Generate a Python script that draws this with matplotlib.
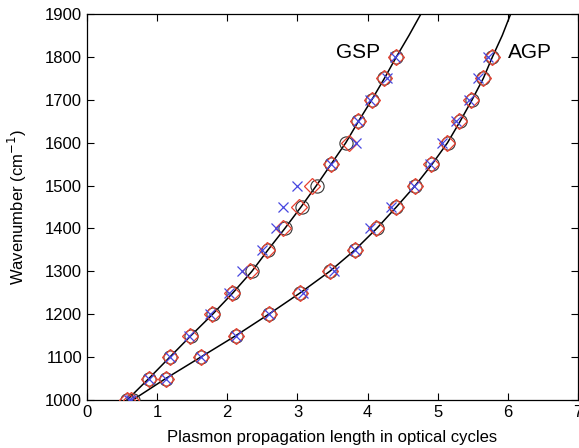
import numpy as np
import matplotlib.pyplot as plt

plt.rcParams['font.family'] = ['Liberation Sans', 'DejaVu Sans']

wn = [1000, 1050, 1100, 1150, 1200, 1250, 1300, 1350, 1400,
      1450, 1500, 1550, 1600, 1650, 1700, 1750, 1800]
wn_line = wn + [1850, 1900]

# GSP
gsp_circ = [0.57, 0.88, 1.18, 1.48, 1.79, 2.08, 2.35, 2.58, 2.82,
            3.07, 3.28, 3.48, 3.69, 3.87, 4.06, 4.24, 4.41]
gsp_diam = [0.57, 0.88, 1.18, 1.47, 1.78, 2.07, 2.33, 2.57, 2.80,
            3.02, 3.21, 3.48, 3.73, 3.87, 4.06, 4.23, 4.41]
gsp_x = [0.60, 0.88, 1.18, 1.45, 1.75, 2.02, 2.21, 2.49, 2.70,
         2.80, 2.99, 3.48, 3.84, 3.87, 4.03, 4.27, 4.39]
gsp_line = [0.57, 0.88, 1.18, 1.48, 1.79, 2.08, 2.35, 2.58, 2.82,
            3.05, 3.27, 3.48, 3.69, 3.87, 4.06, 4.24, 4.41, 4.59, 4.76]

# AGP
agp_circ = [0.65, 1.12, 1.62, 2.12, 2.59, 3.04, 3.46, 3.82, 4.13,
            4.41, 4.68, 4.92, 5.14, 5.32, 5.49, 5.65, 5.78]
agp_diam = [0.63, 1.12, 1.62, 2.12, 2.59, 3.03, 3.46, 3.82, 4.12,
            4.40, 4.67, 4.91, 5.13, 5.31, 5.48, 5.64, 5.78]
agp_x = [0.62, 1.12, 1.62, 2.12, 2.59, 3.08, 3.52, 3.82, 4.03,
         4.33, 4.66, 4.89, 5.06, 5.26, 5.45, 5.57, 5.71]
agp_line = [0.65, 1.12, 1.62, 2.12, 2.59, 3.04, 3.46, 3.82, 4.13,
            4.41, 4.68, 4.92, 5.14, 5.32, 5.49, 5.65, 5.78, 5.92, 6.04]

fig = plt.figure(figsize=(5.79, 4.48), dpi=100)
ax = fig.add_axes([0.1503, 0.107, 0.8480, 0.8618])

for ln, c, d, x in [(gsp_line, gsp_circ, gsp_diam, gsp_x),
                    (agp_line, agp_circ, agp_diam, agp_x)]:
    ax.plot(ln, wn_line, color='k', lw=1.1, zorder=2)
    ax.plot(c, wn, 'o', mfc='none', mec='#333333', ms=9.5, mew=0.8, zorder=3)
    ax.plot(d, wn, 'D', mfc='none', mec='#e8402f', ms=8, mew=0.9, zorder=4)
    ax.plot(x, wn, 'x', color='#4646e0', ms=6.5, mew=0.9, zorder=5)

ax.text(3.87, 1811, 'GSP', fontsize=15, ha='center', va='center')
ax.text(6.32, 1811, 'AGP', fontsize=15, ha='center', va='center')

ax.set_xlim(0, 7)
ax.set_ylim(1000, 1900)
ax.set_xticks(range(0, 8))
ax.set_yticks(range(1000, 2000, 100))
ax.tick_params(direction='in', top=True, right=True, length=5, labelsize=12, width=0.8)
for s in ax.spines.values():
    s.set_linewidth(0.9)
ax.set_xlabel('Plasmon propagation length in optical cycles', fontsize=12)
ax.xaxis.set_label_coords(0.5, -0.078)
ax.set_ylabel('Wavenumber (cm$^{-1}$)', fontsize=12)
ax.yaxis.set_label_coords(-0.118, 0.5)

fig.savefig('out.png', dpi=100)
